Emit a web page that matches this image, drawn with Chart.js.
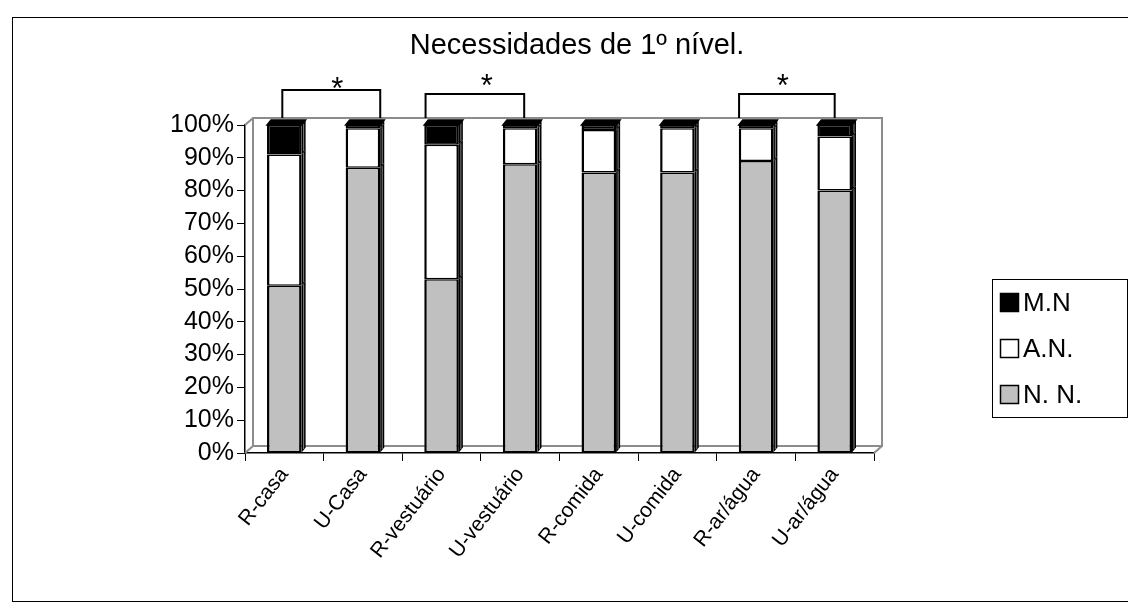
<!DOCTYPE html>
<html>
<head>
<meta charset="utf-8">
<script src="https://cdn.jsdelivr.net/npm/chart.js@4.4.1/dist/chart.umd.min.js"></script>
<style>
  html, body { margin: 0; padding: 0; background: #ffffff; }
  canvas { display: block; }
</style>
</head>
<body>
<canvas id="chart" width="1128" height="612"></canvas>
<script>
// Categories and stacked shares (percent of respondents)
const categories = ['R-casa', 'U-Casa', 'R-vestuário', 'U-vestuário', 'R-comida', 'U-comida', 'R-ar/água', 'U-ar/água'];
const nnValues = [51, 87, 53, 88, 85.5, 85.5, 89, 80];
const anValues = [40, 12, 41, 11, 13, 13.5, 10, 16.5];
const mnValues = [9, 1, 6, 1, 1.5, 1, 1, 3.5];
const seriesNames = ['N. N.', 'A.N.', 'M.N'];
const yTickValues = [0, 10, 20, 30, 40, 50, 60, 70, 80, 90, 100];
const yTickLabels = ['0%', '10%', '20%', '30%', '40%', '50%', '60%', '70%', '80%', '90%', '100%'];
const chartTitle = 'Necessidades de 1º nível.';
// pairs of bars marked as significantly different
const significantPairs = [[0, 1], [2, 3], [6, 7]];

const FONT = "'Liberation Sans', Arial, sans-serif";
const fills = ['#c0c0c0', '#ffffff', '#000000'];
const DEPTH_X = 8, DEPTH_Y = 7;   // floor/wall perspective offset
const BAR_DX = 4, BAR_DY = 5;     // bar depth

// outer frame of the figure
const framePlugin = {
  id: 'frame',
  beforeDraw(chart) {
    const ctx = chart.ctx;
    ctx.save();
    ctx.fillStyle = '#fff';
    ctx.fillRect(0, 0, chart.width, chart.height);
    ctx.strokeStyle = '#000';
    ctx.lineWidth = 1;
    ctx.strokeRect(12.5, 17.5, 1120, 584);
    ctx.restore();
  }
};

// grey back wall and floor edges of the 3-D plot area
const wallPlugin = {
  id: 'wall',
  beforeDatasetsDraw(chart) {
    const { ctx, chartArea: a } = chart;
    ctx.save();
    ctx.strokeStyle = '#8c8c8c';
    ctx.lineWidth = 2;
    ctx.beginPath();
    ctx.moveTo(a.left, a.top);
    ctx.lineTo(a.left + DEPTH_X, a.top - DEPTH_Y);
    ctx.lineTo(a.right + DEPTH_X, a.top - DEPTH_Y);
    ctx.lineTo(a.right + DEPTH_X, a.bottom - DEPTH_Y);
    ctx.lineTo(a.left + DEPTH_X, a.bottom - DEPTH_Y);
    ctx.lineTo(a.left + DEPTH_X, a.top - DEPTH_Y);
    ctx.moveTo(a.right, a.bottom);
    ctx.lineTo(a.right + DEPTH_X, a.bottom - DEPTH_Y);
    ctx.moveTo(a.left, a.bottom);
    ctx.lineTo(a.left + DEPTH_X, a.bottom - DEPTH_Y);
    ctx.stroke();
    ctx.restore();
  }
};

// side and top faces for each bar segment
const barDepthPlugin = {
  id: 'barDepth',
  afterDatasetsDraw(chart) {
    const ctx = chart.ctx;
    ctx.save();
    chart.data.datasets.forEach((ds, di) => {
      const meta = chart.getDatasetMeta(di);
      meta.data.forEach((bar) => {
        const { x, y, base, width } = bar.getProps(['x', 'y', 'base', 'width'], true);
        if (Math.abs(base - y) < 0.01) return;
        const r = x + width / 2, l = x - width / 2;
        // right side face
        ctx.fillStyle = '#000';
        ctx.beginPath();
        ctx.moveTo(r, y);
        ctx.lineTo(r + BAR_DX, y - BAR_DY);
        ctx.lineTo(r + BAR_DX, base - BAR_DY);
        ctx.lineTo(r, base);
        ctx.closePath();
        ctx.fill();
        ctx.strokeStyle = '#808080';
        ctx.lineWidth = 1;
        ctx.beginPath();
        ctx.moveTo(r + BAR_DX / 2, y - BAR_DY / 2 + 1);
        ctx.lineTo(r + BAR_DX / 2, base - BAR_DY / 2 - 1);
        ctx.stroke();
        // top face only on the highest segment of the stack
        if (di === chart.data.datasets.length - 1) {
          ctx.fillStyle = ds.backgroundColor;
          ctx.strokeStyle = '#000';
          ctx.lineWidth = 1.5;
          ctx.beginPath();
          ctx.moveTo(l, y);
          ctx.lineTo(l + BAR_DX, y - BAR_DY);
          ctx.lineTo(r + BAR_DX, y - BAR_DY);
          ctx.lineTo(r, y);
          ctx.closePath();
          ctx.fill();
          ctx.stroke();
        }
      });
    });
    ctx.restore();
  }
};

// title, significance brackets and legend box
const overlayPlugin = {
  id: 'overlay',
  afterDraw(chart) {
    const { ctx, chartArea: a } = chart;
    const xs = chart.scales.x;
    const half = chart.getDatasetMeta(0).data[0].width / 2;
    ctx.save();
    ctx.fillStyle = '#000';
    ctx.textAlign = 'center';
    ctx.textBaseline = 'middle';
    ctx.font = '29px ' + FONT;
    ctx.fillText(chartTitle, 577, 46);

    // brackets: [left shift, right shift, top y, star x shift, star baseline]
    const shapes = [[-2, half, 90, 6, 99], [-16, 4, 94, 12, 96], [-17, 0, 94, -4, 96]];
    ctx.strokeStyle = '#000';
    ctx.lineWidth = 2;
    ctx.textBaseline = 'alphabetic';
    significantPairs.forEach(([p, q], k) => {
      const s = shapes[k];
      const x1 = xs.getPixelForValue(p) + s[0];
      const x2 = xs.getPixelForValue(q) + s[1];
      const yb = a.top - DEPTH_Y;
      ctx.beginPath();
      ctx.moveTo(x1, yb);
      ctx.lineTo(x1, s[2]);
      ctx.lineTo(x2, s[2]);
      ctx.lineTo(x2, yb);
      ctx.stroke();
      ctx.font = '31px ' + FONT;
      ctx.fillText('*', (x1 + x2) / 2 + s[3], s[4]);
    });

    // legend
    ctx.lineWidth = 1;
    ctx.strokeRect(992.5, 279.5, 135, 138);
    ctx.textAlign = 'left';
    ctx.textBaseline = 'middle';
    ctx.font = '26px ' + FONT;
    const order = [2, 1, 0];
    order.forEach((di, k) => {
      const cy = 303 + k * 46;
      ctx.fillStyle = fills[di];
      ctx.fillRect(1000.5, cy - 9.5, 18, 18);
      ctx.strokeStyle = '#000';
      ctx.lineWidth = 1.5;
      ctx.strokeRect(1000.5, cy - 9.5, 18, 18);
      ctx.fillStyle = '#000';
      ctx.fillText(seriesNames[di], 1023, cy + 1);
    });
    ctx.restore();
  }
};

const seriesValues = [nnValues, anValues, mnValues];

new Chart(document.getElementById('chart'), {
  type: 'bar',
  data: {
    labels: categories,
    datasets: seriesValues.map((vals, i) => ({
      label: seriesNames[i],
      data: vals,
      backgroundColor: fills[i],
      borderColor: '#000',
      borderWidth: { left: 2.5, right: 2.5, top: 1.5, bottom: 1.5 },
      borderSkipped: false,
      barPercentage: 0.44,
      categoryPercentage: 1
    }))
  },
  options: {
    responsive: false,
    animation: false,
    devicePixelRatio: 1,
    layout: { padding: { top: 125, left: 0, right: 254, bottom: 0 } },
    plugins: {
      legend: { display: false },
      title: { display: false },
      tooltip: { enabled: false }
    },
    scales: {
      x: {
        stacked: true,
        afterFit(scale) { scale.height = 159; },
        grid: { drawOnChartArea: false, drawTicks: true, tickLength: 8, color: '#000', offset: true },
        border: { display: true, color: '#000', width: 1.5 },
        ticks: {
          color: '#000',
          font: { family: FONT, size: 21 },
          minRotation: 52,
          maxRotation: 52,
          autoSkip: false,
          padding: 2
        }
      },
      y: {
        stacked: true,
        min: 0,
        max: 100,
        afterFit(scale) { scale.width = 245; },
        afterBuildTicks(scale) { scale.ticks = yTickValues.map(v => ({ value: v })); },
        grid: { drawOnChartArea: false, drawTicks: true, tickLength: 8, color: '#000' },
        border: { display: true, color: '#000', width: 1.5 },
        ticks: {
          color: '#000',
          font: { family: FONT, size: 25 },
          padding: 3,
          autoSkip: false,
          callback: (v, i) => yTickLabels[i]
        }
      }
    }
  },
  plugins: [framePlugin, wallPlugin, barDepthPlugin, overlayPlugin]
});
</script>
</body>
</html>
